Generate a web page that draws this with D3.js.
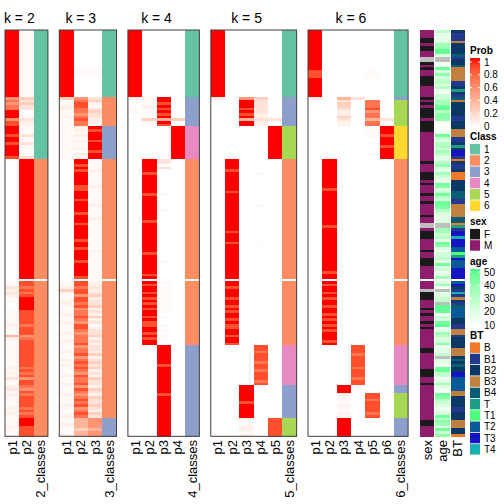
<!DOCTYPE html>
<html><head><meta charset="utf-8">
<script src="https://cdn.jsdelivr.net/npm/d3@7"></script>
<style>body{margin:0;background:#fff}svg{display:block}text{font-family:"Liberation Sans",Arial,sans-serif}</style>
</head><body><svg id="c" width="504" height="504"></svg>
<script>
// ---- data ----
const nTop = 93, nBottom = 58;
// probability level codes 0..9
const levels = [0, 0.03, 0.08, 0.15, 0.25, 0.4, 0.55, 0.7, 0.85, 1];

const k2_p1 = "99999 99999 99999 99999 99999|67677 99968 8|99989 98999 98|00000 00000 00000 00000 00000 00100 00000 00000 00000|11323 21|10001 11112 11152 11|11111 11121 21311 23121 1|11212 1|11121 11";
const k2_p2 = "11111 11111 11111 11111 11111|43433 01132 2|11131 13111 13|99999 99999 99999 99999 99999 99999 99999 99999 99999|88787 89|99998 88887 88867 88|88888 88878 78688 76878 8|88787 8|99988 88";
const k2_cls = "11111 11111 11111 11111 11111|11111 11111 1|11111 11111 11|22222 22222 22222 22222 22222 22222 22222 22222 22222|22222 22|22222 22222 22222 22|22222 22222 22222 22222 2|22222 2|22222 22";

const k3_p1 = "99999 99999 99999 99999 99999|41122 11211 1|11111 11111 11|00000 00000 00000 00000 00000 00000 00000 00000 00000|11242 11|22111 21121 11211 21|11211 21211 12112 11121 1|12111 2|11211 12";
const k3_p2 = "00000 00000 00001 11000 00000|67887 76787 7|22121 21121 21|99898 99999 88999 89999 89998 99999 89989 99989 99998|88788 68|87867 78768 87677 78|67786 78787 68778 68767 8|78678 7|55554 55";
const k3_p3 = "00000 00000 00001 11000 00000|34213 43322 1|98999 89998 99|11112 11111 21111 11211 11211 11111 11112 11111 11111|22323 42|33423 24231 23342 32|33242 34342 32433 24324 3|34324 3|66665 66";
const k3_cls = "11111 11111 11111 11111 11111|22222 22222 2|33333 33333 33|22222 22222 22222 22222 22222 22222 22222 22222 22222|22222 22|22222 22222 22222 22|22222 22222 22222 22222 2|22222 2|33333 33";

const k4_p1 = "99999 99999 99999 99999 99999|20001 10010 0|00000 00000 00|00000 00000 00000 00000 00000 00000 00000 00000 00000|00000 00|00000 00000 00000 00|00000 00000 00000 00000 0|00000 0|00000 00";
const k4_p2 = "00000 00000 00000 00000 00000|11121 11041 1|00000 00000 00|99999 89999 99989 99999 99989 99999 99999 89999 99989|98998 98|98989 98988 99898 99|00000 00000 00000 00000 0|00000 0|00000 00";
const k4_p3 = "00000 00000 00000 00000 00000|99898 98959 8|00000 00000 00|33030 00000 00010 00001 00000 00100 00000 00010 00000|10110 11|01101 01001 01011 00|99999 99899 99999 99989 9|99999 9|99999 99";
const k4_p4 = "00000 00000 00000 00000 00000|00000 00040 0|99999 99999 99|00000 00000 00000 00000 00000 00000 00000 00000 00000|00000 00|00000 00000 00000 00|00000 00000 00000 00000 0|00000 0|00000 00";
const k4_cls = "11111 11111 11111 11111 11111|33333 33333 3|44444 44444 44|22222 22222 22222 22222 22222 22222 22222 22222 22222|22222 22|22222 22222 22222 22|33333 33333 33333 33333 3|33333 3|33333 33";

// k=5 and k=6 bottom part: 24 | 15 | 3 | 9 | 7 rows
const k5_p1 = "99999 99999 99999 99999 99999|20000 00000 0|00000 00000 00|00000 00000 00000 00000 00000 00000 00000 00000 00000|00000 00000 00000 00000 0000|00000 00000 00000|000|00000 0000|00000 00";
const k5_p2 = "00000 00000 00000 00000 00000|00000 00000 0|00000 00000 00|99998 99999 99899 99999 99999 99899 98999 99999 99999|99899 98998 98998 98899 8998|00000 00000 00000|000|00000 0000|00000 00";
const k5_p3 = "00000 00000 00000 00000 00000|69998 98959 9|00000 00000 00|10000 00000 00000 00000 00000 00000 00000 00000 00000|00000 00000 00000 00000 0000|00000 00000 00000|999|99989 9999|21122 12";
const k5_p4 = "00000 00000 00000 00000 00000|43333 32232 2|00000 00000 00|00000 10000 00000 00100 00000 00000 01000 00000 00000|00000 00000 00000 00000 0000|88788 87887 88878|000|00000 0000|00000 00";
const k5_p5 = "00000 00000 00000 00000 00000|00000 00030 0|99999 99999 99|00000 00000 00000 00000 00000 00000 00000 00000 00000|00000 00000 00000 00000 0000|00000 00000 00000|000|00000 0000|88888 88";
const k5_cls = "11111 11111 11111 11111 11111|33333 33333 3|55555 55555 55|22222 22222 22222 22222 22222 22222 22222 22222 22222|22222 22222 22222 22222 2222|44444 44444 44444|333|33333 3333|55555 55";

const k6_p1 = "99999 99999 99999 88899 99999|20000 00000 0|00000 00000 00|00000 00000 00000 00000 00000 00000 00000 00000 00000|00000 00000 00000 00000 0000|00000 00000 00000|000|00000 0000|00000 00";
const k6_p2 = "00000 00000 00000 00000 00000|00000 00000 0|00000 00000 00|99999 99999 98999 99999 99999 89999 99999 99999 99899|98998 98998 99898 98989 9989|00000 00000 00000|000|00000 0000|00000 00";
const k6_p3 = "00000 00000 00000 00000 00000|53443 22432 2|00000 00000 00|00000 00000 00000 00000 00000 00000 00000 00000 00000|00000 00000 00000 00000 0000|00000 00000 00000|999|21112 1121|99999 99";
const k6_p4 = "00000 00000 00000 00000 00000|30000 00000 0|00000 00000 00|00000 00000 00000 00000 00000 00000 00000 00000 00000|00000 00000 00000 00000 0000|88878 88878 88788|000|00000 0000|00000 00";
const k6_p5 = "00000 00000 00000 11100 00000|07778 67757 7|01110 01000 10|00000 00000 00000 00000 00000 00000 00000 00000 00000|00000 00000 00000 00000 0000|00000 00000 00000|000|88788 8878|00000 00";
const k6_p6 = "00000 00000 00000 00000 00000|00000 00030 0|99989 99899 99|00000 00000 00000 00000 00000 00000 00000 00000 00000|00000 00000 00000 00000 0000|00000 00000 00000|000|00000 0000|00000 00";
const k6_cls = "11111 11111 11111 11111 11111|35555 55555 5|66666 66666 66|22222 22222 22222 22222 22222 22222 22222 22222 22222|22222 22222 22222 22222 2222|44444 44444 44444|333|55555 5555|33333 33";

const sex = "MMMFFMFFMM NNFMFMMFFF FMMMMFMFMF FFFMFFFFMM MMMMMMMMMF MMMFFFMFMM MFMMFMMMMF MMNNMFFFMM MMFMMFFFMM MMM MMMNFFFMMM FMFMMFMFMM MMMMMFFMMM MMMFFFMMFM MMMMMMMMMM MMFFMMMM";
const age = [28,15,18,18,20,35,36,48,47,20, null,null,15,16,45,20,40,22,25,30, 20,30,15,15,25,25,35,33,45,48,
  30,40,40,38,12,12,13,12,18,45, 25,20,30,32,25,35,28,18,18,30, 38,22,18,35,25,20,15,45,42,20,
  25,45,30,20,45,44,42,30,22,18, 18,20,null,null,35,35,25,30,18,45, 40,20,15,22,25,30,18,45,20,25, 15,20,35,
  20,35,15,null,18,20,25,30,null,48, 47,46,15,25,20,45,48,15,18,35, 30,20,22,40,15,18,20,25,null,20,
  18,15,45,45,30,25,15,20,35,20, 15,10,45,42,30,25,20,15,18,22, 45,30,40,35,20,45,25,40];
const BT = ["B2","B1","B1","B1","B3","B2","B2","B2","B2","B4",
  "B1","B2","B2","B4","B3","B3","B3","B3","B3","B1",
  "B1","B2","T","B2","B1","B4","B3","B2","B2","B2",
  "B2","B2","B1","B1","B2","B2","B2","B3","B3","B3",
  "B1","B1","B2","T","B2","T3","T3","B1","B","B2",
  "B1","B1","B2","B","B","B","B2","B2","B2","B2",
  "B4","B4","B4","B1","B1","B3","B3","B3","B3","B3",
  "B4","B4","B","T","B1","T3","T3","T4","T3","T3",
  "T3","T2","T2","T1","T","T3","T2","T2","T2","T3",
  "T3","T3","T3","T2","T3","B2","B1","T4","B1","B3",
  "B2","B1","B4","T2","T2","T2","T2","B2","B2","B1",
  "B1","B3","B3","B1","B2","B2","B2","B2","B3","B3",
  "B3","B2","B4","B2","B4","B2","B2","T3","T3","T2",
  "T2","T2","T2","T2","B3","B3","B2","B2","B2","B2",
  "B1","B1","B2","B2","B2","B3","B3","B3","B2","B2","B"];

const classLabels = ["1","2","3","4","5","6"];
const classColors = ["#66C2A5","#FC8D62","#8DA0CB","#E78AC3","#A6D854","#FFD92F"];
const sexLabels = ["F","M"];
const sexColors = ["#1A1A1A","#8F1D6D"];
const btLabels = ["B","B1","B2","B3","B4","T","T1","T2","T3","T4"];
const btColors = ["#F07A2A","#23398D","#0C3866","#C17F40","#0B5E72","#1B9E86","#4DFF7C","#0B5A98","#1414C4","#1AAFB2"];
const probTicks = [1, 0.8, 0.6, 0.4, 0.2, 0];
const ageTicks = [50, 40, 30, 20, 10];

// ---- helpers ----
const parse = s => s.replace(/[^0-9]/g, "").split("").map(Number);
const N = nTop + nBottom;
const panels = [
  {k: 2, cols: [k2_p1, k2_p2], cls: k2_cls},
  {k: 3, cols: [k3_p1, k3_p2, k3_p3], cls: k3_cls},
  {k: 4, cols: [k4_p1, k4_p2, k4_p3, k4_p4], cls: k4_cls},
  {k: 5, cols: [k5_p1, k5_p2, k5_p3, k5_p4, k5_p5], cls: k5_cls},
  {k: 6, cols: [k6_p1, k6_p2, k6_p3, k6_p4, k6_p5, k6_p6], cls: k6_cls}
];

const svg = d3.select("#c");
const yTop = d3.scaleBand().domain(d3.range(nTop)).range([30, 279]);
const yBot = d3.scaleBand().domain(d3.range(nTop, N)).range([281, 436.3]);
const yOf = i => i < nTop ? yTop(i) : yBot(i);
const hOf = i => i < nTop ? yTop.bandwidth() : yBot.bandwidth();

const probColor = d3.scaleLinear().domain([0, 1]).range(["#ffffff", "#ff0000"]).interpolate(d3.interpolateLab);
const classColor = d3.scaleOrdinal().domain(classLabels).range(classColors);
const sexColor = d3.scaleOrdinal().domain(sexLabels).range(sexColors);
const ageColor = d3.scaleLinear().domain([10, 50]).range(["#ffffff", "#4DFF8B"]).interpolate(d3.interpolateLab);
const btColor = d3.scaleOrdinal().domain(btLabels).range(btColors);

const cw = 14.3, gap = 11.4;
let x0 = 5;
const bodyG = svg.append("g").attr("shape-rendering", "crispEdges");
panels.forEach(p => {
  const names = p.cols.map((c, j) => "p" + (j + 1)).concat([p.k + "_classes"]);
  const x = d3.scaleBand().domain(names).range([x0, x0 + names.length * cw]);
  const g = bodyG.append("g");
  p.cols.forEach((col, j) => {
    const vals = parse(col);
    g.selectAll(null).data(vals).enter().append("rect")
      .attr("x", x(names[j])).attr("width", x.bandwidth() + 0.3)
      .attr("y", (d, i) => yOf(i)).attr("height", (d, i) => hOf(i) + 0.4)
      .attr("fill", d => probColor(levels[d]));
  });
  const cls = p.cls.replace(/[^0-9]/g, "").split("");
  g.selectAll(null).data(cls).enter().append("rect")
    .attr("x", x(names[names.length - 1])).attr("width", x.bandwidth())
    .attr("y", (d, i) => yOf(i)).attr("height", (d, i) => hOf(i) + 0.4)
    .attr("fill", d => classColor(d));
  svg.append("rect").attr("x", x0).attr("y", 30).attr("width", names.length * cw).attr("height", 406.3)
    .attr("fill", "none").attr("stroke", "#404040").attr("stroke-width", 1);
  svg.append("text").attr("x", x0 + p.k * cw / 2).attr("y", 23).attr("text-anchor", "middle")
    .attr("font-size", 14).text("k = " + p.k);
  names.forEach(n => {
    svg.append("text").attr("transform", `translate(${x(n) + x.bandwidth() / 2 + 4.5},440) rotate(-90)`)
      .attr("text-anchor", "end").attr("font-size", 13).text(n);
  });
  x0 += names.length * cw + gap;
});

// annotations
const ax = d3.scaleBand().domain(["sex", "age", "BT"]).range([420, 465]).paddingInner(0.07);
const sexArr = sex.replace(/\s/g, "").split("");
const ag = svg.append("g").attr("shape-rendering", "crispEdges");
ag.selectAll(null).data(sexArr).enter().append("rect")
  .attr("x", ax("sex")).attr("width", ax.bandwidth())
  .attr("y", (d, i) => yOf(i)).attr("height", (d, i) => hOf(i) + 0.4)
  .attr("fill", d => d === "N" ? "#BEBEBE" : sexColor(d));
ag.selectAll(null).data(age).enter().append("rect")
  .attr("x", ax("age")).attr("width", ax.bandwidth())
  .attr("y", (d, i) => yOf(i)).attr("height", (d, i) => hOf(i) + 0.4)
  .attr("fill", d => d == null ? "#BEBEBE" : ageColor(d));
ag.selectAll(null).data(BT).enter().append("rect")
  .attr("x", ax("BT")).attr("width", ax.bandwidth())
  .attr("y", (d, i) => yOf(i)).attr("height", (d, i) => hOf(i) + 0.4)
  .attr("fill", d => btColor(d));
["sex", "age", "BT"].forEach(n => {
  svg.append("text").attr("transform", `translate(${ax(n) + ax.bandwidth() / 2 + 4.5},440) rotate(-90)`)
    .attr("text-anchor", "end").attr("font-size", 13).text(n);
});

// ---- legends ----
const lx = 470;
const defs = svg.append("defs");
function gradient(id, scale, domain) {
  const gr = defs.append("linearGradient").attr("id", id).attr("x1", 0).attr("y1", 1).attr("x2", 0).attr("y2", 0);
  d3.range(11).forEach(i => {
    const v = domain[0] + (domain[1] - domain[0]) * i / 10;
    gr.append("stop").attr("offset", i / 10).attr("stop-color", scale(v));
  });
}
function title(t, y) {
  svg.append("text").attr("x", lx).attr("y", y).attr("font-size", 10).attr("font-weight", "bold").text(t);
}
title("Prob", 54);
gradient("gp", probColor, [0, 1]);
svg.append("rect").attr("x", lx).attr("y", 58).attr("width", 10).attr("height", 70).attr("fill", "url(#gp)");
const py = d3.scaleLinear().domain([0, 1]).range([126, 62]);
probTicks.forEach(t => {
  svg.append("text").attr("x", lx + 14).attr("y", py(t) + 3.6).attr("font-size", 10).text(t);
  svg.append("line").attr("x1", lx + 8).attr("x2", lx + 10).attr("y1", py(t)).attr("y2", py(t)).attr("stroke", "#fff");
  svg.append("line").attr("x1", lx).attr("x2", lx + 2).attr("y1", py(t)).attr("y2", py(t)).attr("stroke", "#fff");
});
function discrete(labels, scale, y0) {
  const step = 11.3;
  labels.forEach((l, i) => {
    svg.append("rect").attr("x", lx).attr("y", y0 + i * step + 0.4).attr("width", 10).attr("height", step - 0.8).attr("fill", scale(l));
    svg.append("text").attr("x", lx + 14).attr("y", y0 + i * step + step / 2 + 3.6).attr("font-size", 10).text(l);
  });
}
title("Class", 140);
discrete(classLabels, classColor, 143.5);
title("sex", 225);
discrete(sexLabels, sexColor, 228.5);
title("age", 265);
gradient("ga", ageColor, [10, 50]);
svg.append("rect").attr("x", lx).attr("y", 269).attr("width", 10).attr("height", 58).attr("fill", "url(#ga)");
const ayS = d3.scaleLinear().domain([10, 50]).range([325, 272]);
ageTicks.forEach(t => {
  svg.append("text").attr("x", lx + 14).attr("y", ayS(t) + 3.6).attr("font-size", 10).text(t);
  svg.append("line").attr("x1", lx + 8).attr("x2", lx + 10).attr("y1", ayS(t)).attr("y2", ayS(t)).attr("stroke", "#fff");
  svg.append("line").attr("x1", lx).attr("x2", lx + 2).attr("y1", ayS(t)).attr("y2", ayS(t)).attr("stroke", "#fff");
});
title("BT", 339);
discrete(btLabels, btColor, 342);
</script></body></html>
